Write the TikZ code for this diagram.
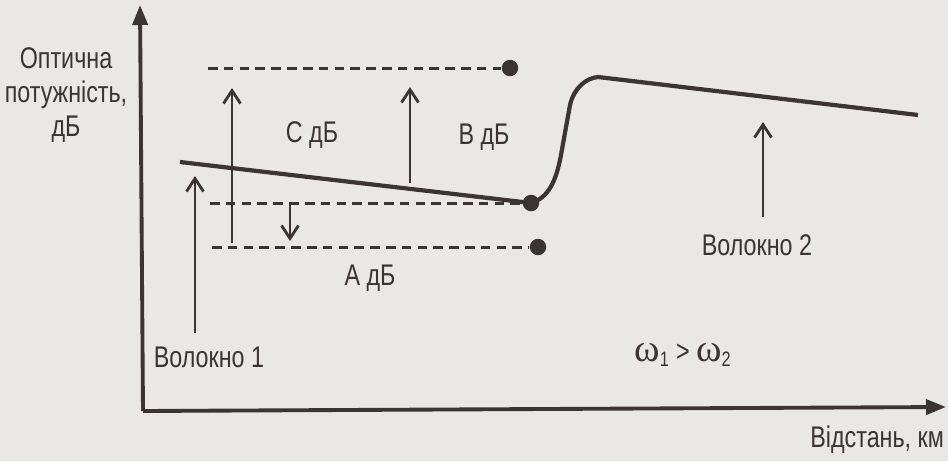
\documentclass[tikz,border=0pt]{standalone}
\usepackage{fontspec}
\setmainfont[FakeStretch=0.78]{Liberation Sans}
\newfontfamily\omegafont{Liberation Serif}
\usetikzlibrary{arrows.meta,positioning}
\definecolor{paper}{RGB}{234,232,228}
\definecolor{ink}{RGB}{58,52,50}

\begin{document}
\begin{tikzpicture}[
  x=0.02cm, y=-0.02cm,
  font=\fontsize{17}{19.5}\selectfont,
  txt/.style={text=ink, inner sep=1pt},
  axis/.style={draw=ink, line width=2.2pt, -{Triangle[length=4mm,width=3mm]}},
  curve/.style={draw=ink, line width=2.4pt, line join=round},
  level/.style={draw=ink, line width=1.7pt, dash pattern=on 5.5pt off 3.5pt},
  arrow/.style={draw=ink, line width=1.6pt, -{Straight Barb[length=2.6mm,width=3.4mm]}},
  dot/.style={circle, fill=ink, inner sep=0pt, minimum size=3.3mm}
]
\useasboundingbox[fill=paper] (0,0) rectangle (948,461);

% axes
\coordinate (orig) at (143,411);
\coordinate (ytop) at (140,5);
\coordinate (xend) at (946,407);
\draw[axis] (orig) -- (ytop);
\draw[axis] (orig) -- (xend);
\node[txt, align=center] (ylab) at (66,95) {Оптична\\потужність,\\дБ};
\node[txt, anchor=east] (xlab) at (946,440) {Відстань, км};

% fibre 1, splice and fibre 2
\node[dot] (splice) at (531,203) {};
\coordinate (f1start) at (180,162);
\coordinate (f2top) at (598,77);
\coordinate (f2end) at (918,115);
\draw[curve] (f1start) -- (splice.center)
  .. controls (548,198) and (556,182) .. (561,155)
  -- (570,105)
  .. controls (574,88) and (586,78) .. (f2top) -- (f2end);

% levels
\node[dot] (topdot) at (510,68) {};
\node[dot] (lowdot) at (538,247) {};
\coordinate (topl) at (208,68);
\coordinate (midl) at (210,203);
\coordinate (lowl) at (212,247);
\draw[level] (topl) -- (topdot);
\draw[level] (midl) -- (splice);
\draw[level] (lowl) -- (lowdot);

% arrows
\coordinate (cbot) at (232,243);
\coordinate (ctop) at (232,88);
\coordinate (bbot) at (410,183);
\coordinate (btop) at (410,87);
\coordinate (aup) at (290,205);
\coordinate (adown) at (290,241);
\coordinate (w1bot) at (195,333);
\coordinate (w1top) at (195,176);
\coordinate (w2bot) at (763,217);
\coordinate (w2top) at (763,122);
\draw[arrow] (cbot) -- (ctop);
\draw[arrow] (bbot) -- (btop);
\draw[arrow] (aup) -- (adown);
\draw[arrow] (w1bot) -- (w1top);
\draw[arrow] (w2bot) -- (w2top);

% labels
\node[txt] (clab) at (312,135) {C дБ};
\node[txt] (blab) at (484,137) {B дБ};
\node[txt] (alab) at (370,278) {A дБ};
\node[txt] (w1lab) at (209,357) {Волокно 1};
\node[txt] (w2lab) at (757,245) {Волокно 2};
\node[txt] (omega) at (683,355) {{\omegafont\fontsize{22}{24}\selectfont ω}\textsubscript{1} > {\omegafont\fontsize{22}{24}\selectfont ω}\textsubscript{2}};

\end{tikzpicture}
\end{document}
